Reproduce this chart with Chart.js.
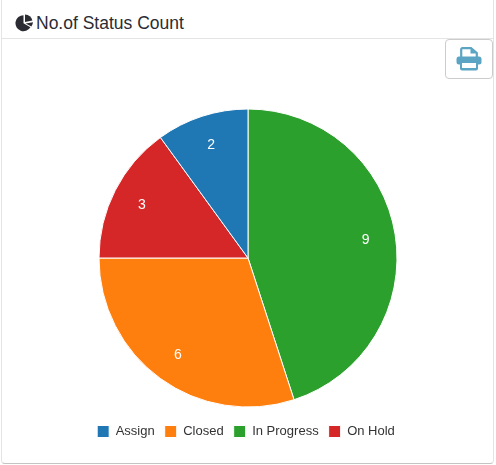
<!DOCTYPE html>
<html>
<head>
<meta charset="utf-8">
<title>No.of Status Count</title>
<script src="https://cdn.jsdelivr.net/npm/chart.js@4"></script>
<style>
    html, body { margin: 0; padding: 0; background: #fff; }
    body { width: 496px; height: 465px; overflow: hidden; position: relative; font-family: "Liberation Sans", Arial, sans-serif; }
    #card { position: absolute; left: 1px; top: 0; width: 491px; height: 463px; border: 1px solid #e4e4e4; border-top: 0; border-bottom-color: #c4c4c4; border-radius: 0 0 4px 4px; }
    #head { position: absolute; left: 0; top: 0; width: 491px; height: 38px; border-bottom: 1px solid #e4e4e4; }
    #head svg { position: absolute; left: 13px; top: 14px; }
    #head span { position: absolute; left: 34px; top: 13px; font-size: 17.5px; line-height: 20px; color: #2b2b33; }
    #print { position: absolute; left: 445px; top: 39px; width: 46px; height: 38px; border: 1px solid #ccc; border-radius: 4px; background: #fff; }
    #print svg { position: absolute; left: 10px; top: 7px; }
    #wrap { position: absolute; left: 0; top: 80px; width: 496px; height: 368px; }
</style>
</head>
<body>
<div id="card">
    <div id="head">
        <svg width="20" height="18" viewBox="0 0 20 18">
            <path d="M8.5 1.2 A8 8 0 1 0 15.4 13.2 L8.5 9.2 Z" fill="#2b2b33"/>
            <path d="M10 0.6 A8 8 0 0 1 17.4 6.6 L10 8 Z" fill="#2b2b33"/>
            <path d="M10.6 9.4 L18 8.2 A8 8 0 0 1 16.4 12.4 Z" fill="#2b2b33"/>
        </svg>
        <span>No.of Status Count</span>
    </div>
</div>
<div id="print">
    <svg width="26" height="24" viewBox="0 0 26 24">
        <path d="M5.2 10 V2.5 Q5.2 1.2 6.5 1.2 H15 L20.8 6 V10" fill="#fff" stroke="#5ba4c4" stroke-width="2.2"/>
        <path d="M14.5 1.5 V6.5 H20.5 Z" fill="#5ba4c4"/>
        <rect x="0.5" y="9.5" width="25" height="8" rx="2.5" fill="#5ba4c4"/>
        <rect x="4" y="15" width="18" height="8.5" rx="2" fill="#5ba4c4"/>
        <rect x="6" y="16" width="14" height="5" fill="#fff"/>
    </svg>
</div>
<div id="wrap"><canvas id="statusChart" width="496" height="368"></canvas></div>

<script>
var categories = ["In Progress", "Closed", "On Hold", "Assign"];
var statusCounts = [9, 6, 3, 2];
var sliceColors = ["#2ca02c", "#ff7f0e", "#d62728", "#1f77b4"];

// writes the count on each slice, at 80% of the radius
var sliceLabels = {
    id: "sliceLabels",
    afterDatasetsDraw: function (chart) {
        var ctx = chart.ctx;
        ctx.save();
        ctx.font = "14px 'Liberation Sans', Arial, sans-serif";
        ctx.fillStyle = "#fff";
        ctx.textAlign = "center";
        ctx.textBaseline = "middle";
        chart.getDatasetMeta(0).data.forEach(function (arc, i) {
            var mid = (arc.startAngle + arc.endAngle) / 2;
            var r = arc.outerRadius * 0.8;
            ctx.fillText(statusCounts[i], arc.x + Math.cos(mid) * r, arc.y + Math.sin(mid) * r + 1);
        });
        ctx.restore();
    }
};

// legend sits 2px left of the pie centre in the original
var legendNudge = {
    id: "legendNudge",
    afterLayout: function (chart) {
        chart.legend.left -= 2;
        chart.legend.right -= 2;
    }
};

new Chart(document.getElementById("statusChart"), {
    type: "pie",
    data: {
        labels: categories,
        datasets: [{
            data: statusCounts,
            backgroundColor: sliceColors,
            borderColor: "#fff",
            borderWidth: 1,
            radius: 149
        }]
    },
    options: {
        responsive: false,
        animation: false,
        layout: { padding: { top: 21, bottom: 0 } },
        plugins: {
            tooltip: { enabled: false },
            legend: {
                position: "bottom",
                labels: {
                    boxWidth: 12,
                    boxHeight: 12,
                    padding: 10,
                    color: "#333",
                    font: { family: "'Liberation Sans', Arial, sans-serif", size: 13 },
                    sort: function (a, b) { return a.text < b.text ? -1 : 1; }
                }
            }
        }
    },
    plugins: [sliceLabels, legendNudge]
});
</script>
</body>
</html>
